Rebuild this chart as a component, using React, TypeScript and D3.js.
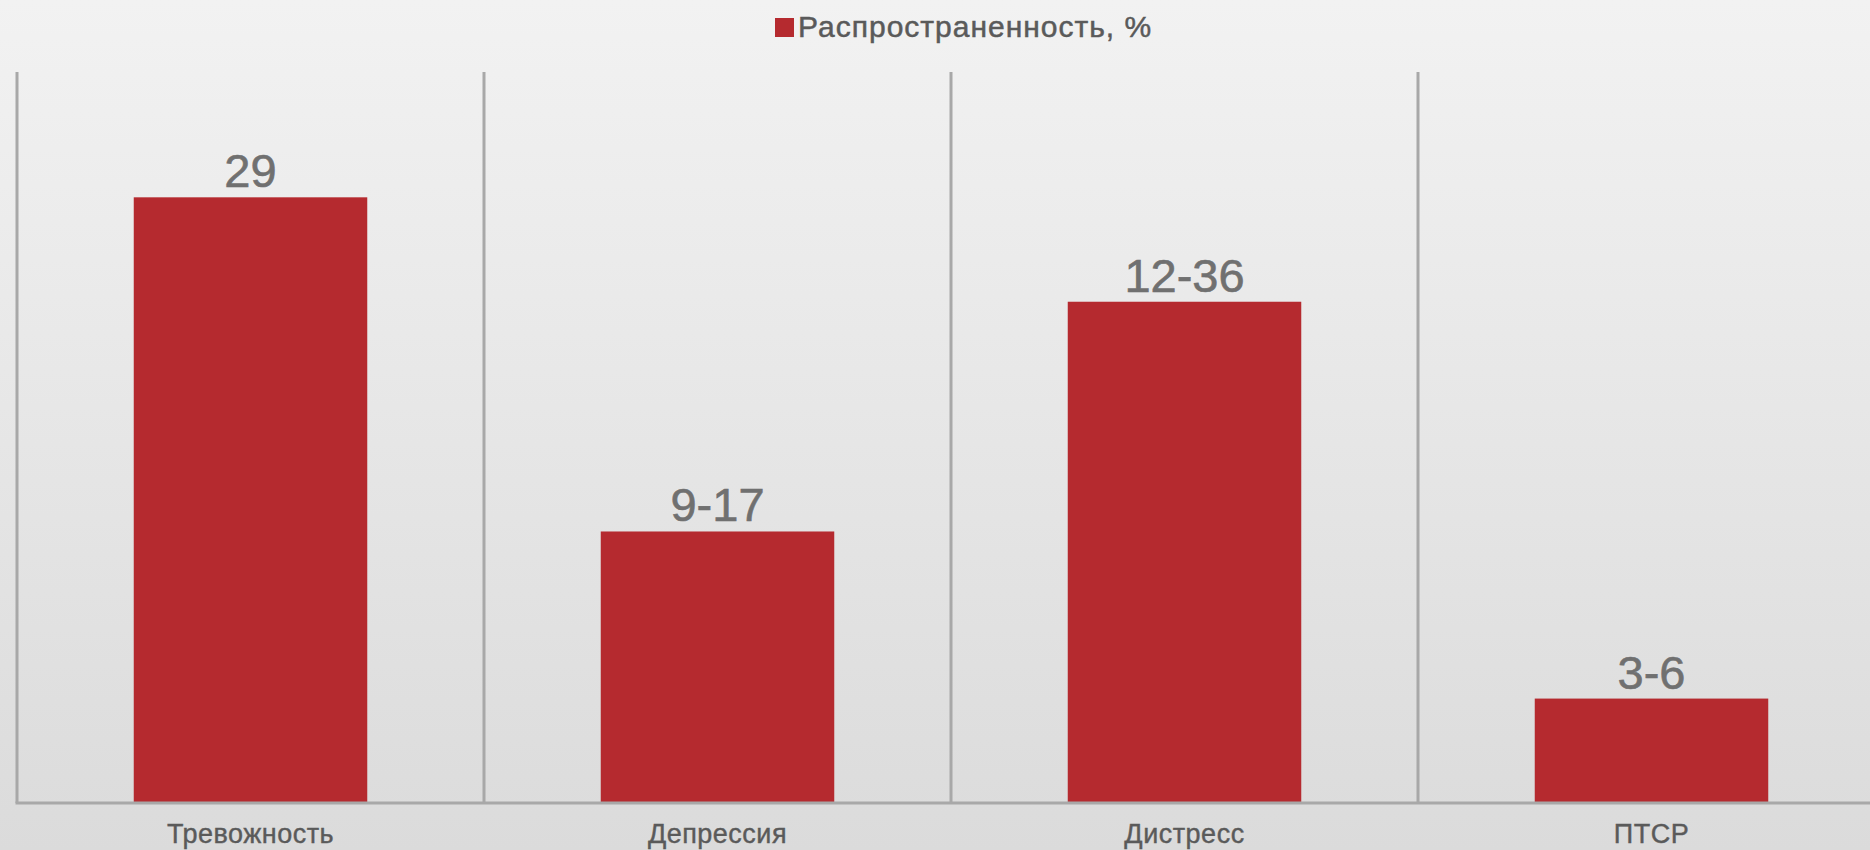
import React from "react";
import * as d3 from "d3";

const categories = ["Тревожность", "Депрессия", "Дистресс", "ПТСР"];
const values = [29, 13, 24, 5];
const valueLabels = ["29", "9-17", "12-36", "3-6"];
const seriesName = "Распространенность, %";
const yMax = 35;

const W = 1870;
const H = 850;

export default function App() {
  const left = 17;
  const right = 1885;
  const top = 72;
  const bottom = 803;

  const x = d3
    .scaleBand<string>()
    .domain(categories)
    .range([left, right])
    .paddingInner(0.5)
    .paddingOuter(0.25);
  const y = d3.scaleLinear().domain([0, yMax]).range([bottom, top]);
  const step = x.step();
  const gridXs = d3.range(categories.length + 1).map((i) => left + i * step);

  const font = "'Liberation Sans', Arial, sans-serif";

  return (
    <svg
      width={W}
      height={H}
      style={{ position: "fixed", left: 0, top: 0, display: "block" }}
    >
      <defs>
        <linearGradient id="bg" x1="0" y1="0" x2="0" y2="1">
          <stop offset="0" stopColor="#F2F2F2" />
          <stop offset="1" stopColor="#DBDBDB" />
        </linearGradient>
      </defs>
      <rect x={0} y={0} width={W} height={H} fill="url(#bg)" />

      {gridXs.map((gx, i) => (
        <line
          key={"g" + i}
          x1={gx}
          x2={gx}
          y1={top}
          y2={bottom}
          stroke="#A8A8A8"
          strokeWidth={3}
        />
      ))}

      {categories.map((c, i) => {
        const bx = x(c)!;
        const by = y(values[i]);
        return (
          <g key={c}>
            <rect
              x={bx}
              y={by}
              width={x.bandwidth()}
              height={bottom - by}
              fill="#B52A2F"
            />
            <text
              x={bx + x.bandwidth() / 2}
              y={by - 10}
              textAnchor="middle"
              fontFamily={font}
              fontSize={47}
              fill="#707070"
              stroke="#707070"
              strokeWidth={0.6}
            >
              {valueLabels[i]}
            </text>
            <text
              x={bx + x.bandwidth() / 2}
              y={843}
              textAnchor="middle"
              fontFamily={font}
              fontSize={27}
              letterSpacing={0.5}
              fill="#5A5A5A"
              stroke="#5A5A5A"
              strokeWidth={0.4}
            >
              {c}
            </text>
          </g>
        );
      })}

      <line
        x1={left - 1.5}
        x2={W}
        y1={bottom}
        y2={bottom}
        stroke="#A8A8A8"
        strokeWidth={3}
      />

      <rect x={775} y={18} width={19} height={19} fill="#B52A2F" />
      <text
        x={798}
        y={37}
        fontFamily={font}
        fontSize={30}
        letterSpacing={1}
        fill="#5A5A5A"
        stroke="#5A5A5A"
        strokeWidth={0.5}
      >
        {seriesName}
      </text>
    </svg>
  );
}
